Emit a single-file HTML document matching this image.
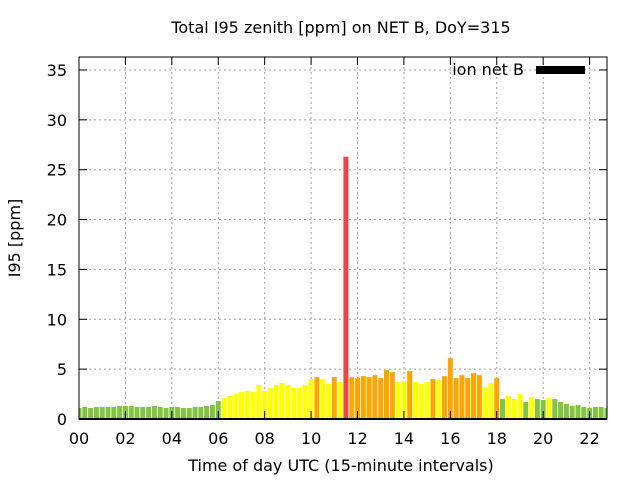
<!DOCTYPE html>
<html><head><meta charset="utf-8"><style>
body{margin:0;background:#fff;}
svg text{font-family:"DejaVu Sans","Liberation Sans",sans-serif;font-size:16px;fill:#000;}
</style></head><body>
<svg id="chart" width="640" height="480" xmlns="http://www.w3.org/2000/svg">
<rect width="640" height="480" fill="#fff"/>
<text x="341" y="33" text-anchor="middle">Total I95 zenith [ppm] on NET B, DoY=315</text>
<text x="341" y="471" text-anchor="middle">Time of day UTC (15-minute intervals)</text>
<text transform="translate(20,238) rotate(-90)" text-anchor="middle">I95 [ppm]</text>
<g id="grid"></g><g id="bars"></g><g id="axes"></g>
<g>
<text x="524" y="75" text-anchor="end">ion net B</text>
<rect x="536" y="66" width="49" height="8" fill="#000"/>
</g>
</svg>
<script>
const values=[1.1,1.2,1.1,1.2,1.2,1.2,1.2,1.3,1.3,1.3,1.2,1.2,1.2,1.3,1.2,1.1,1.2,1.2,1.1,1.1,1.2,1.2,1.3,1.4,
1.8,2.1,2.3,2.5,2.7,2.8,2.7,3.4,2.8,3.1,3.4,3.6,3.4,3.1,3.1,3.4,4.0,4.2,4.0,3.5,4.2,3.7,26.3,
4.2,4.1,4.3,4.2,4.4,4.1,4.9,4.7,3.7,3.8,4.8,3.7,3.5,3.7,4.0,3.9,4.3,6.1,4.1,4.4,4.1,4.6,4.4,3.2,3.6,4.1,
2.0,2.3,2.0,2.5,1.7,2.2,2.0,1.9,2.1,2.0,1.7,1.5,1.3,1.4,1.2,1.1,1.2,1.2,1.1];
const levels="gggggggggggggggggggggggggyyyyyyyyyyyyyyyyoyyoyrooooooooyyoyyyoyoooooooyyogyyygyggyggggggggggg".split("");
const xTicks=["00","02","04","06","08","10","12","14","16","18","20","22"];
const yTicks=[0,5,10,15,20,25,30,35];
const colors={g:"#82c341",y:"#ffff00",o:"#ffa500",r:"#f04343"};
const L=79,R=607,T=57,B=419,XMAX=22.75,YMAX=36.3;
const sx=h=>L+h/XMAX*(R-L), sy=v=>B-v/YMAX*(B-T);
const NS="http://www.w3.org/2000/svg";
function mk(tag,attrs,parent){const e=document.createElementNS(NS,tag);for(const k in attrs)e.setAttribute(k,attrs[k]);document.getElementById(parent).appendChild(e);return e;}
yTicks.forEach(v=>{const y=sy(v);
 if(v>0){const g=mk("line",{x1:L,x2:R,y1:y,y2:y,stroke:"#a0a0a0","stroke-dasharray":"2,3"},"grid");
 
 }
 const t=mk("line",{x1:L,x2:L+8,y1:y,y2:y,stroke:"#000"},"axes");
 
 
 const t2=mk("line",{x1:R-8,x2:R,y1:y,y2:y,stroke:"#000"},"axes");
 
 
 const lb=mk("text",{x:L-12,y:y+6,"text-anchor":"end"},"axes");lb.textContent=v;
 
 
});
xTicks.forEach((s,i)=>{const x=sx(i*2);
 if(i>0){const g=mk("line",{x1:x,x2:x,y1:T,y2:B,stroke:"#a0a0a0","stroke-dasharray":"2,3"},"grid");
 
 }
 const t=mk("line",{x1:x,x2:x,y1:B-8,y2:B,stroke:"#000"},"axes");
 
 
 const t2=mk("line",{x1:x,x2:x,y1:T,y2:T+8,stroke:"#000"},"axes");
 
 
 const lb=mk("text",{x:x,y:B+25,"text-anchor":"middle"},"axes");lb.textContent=s;
 
 
});
const bw=(R-L)/XMAX*0.25*0.86;
values.forEach((v,i)=>{const c=sx(i*0.25);let x0=Math.max(L,c-bw/2),x1=Math.min(R,c+bw/2);
 const b=mk("rect",{x:x0,y:sy(v),width:x1-x0,height:B-sy(v),fill:colors[levels[i]]},"bars");
 
 
});
const f=mk("rect",{x:L,y:T,width:R-L,height:B-T,fill:"none",stroke:"#000","stroke-width":1},"axes");


const bl=mk("line",{x1:L,x2:R,y1:B,y2:B,stroke:"#000","stroke-width":2},"axes");


</script>
</body></html>
